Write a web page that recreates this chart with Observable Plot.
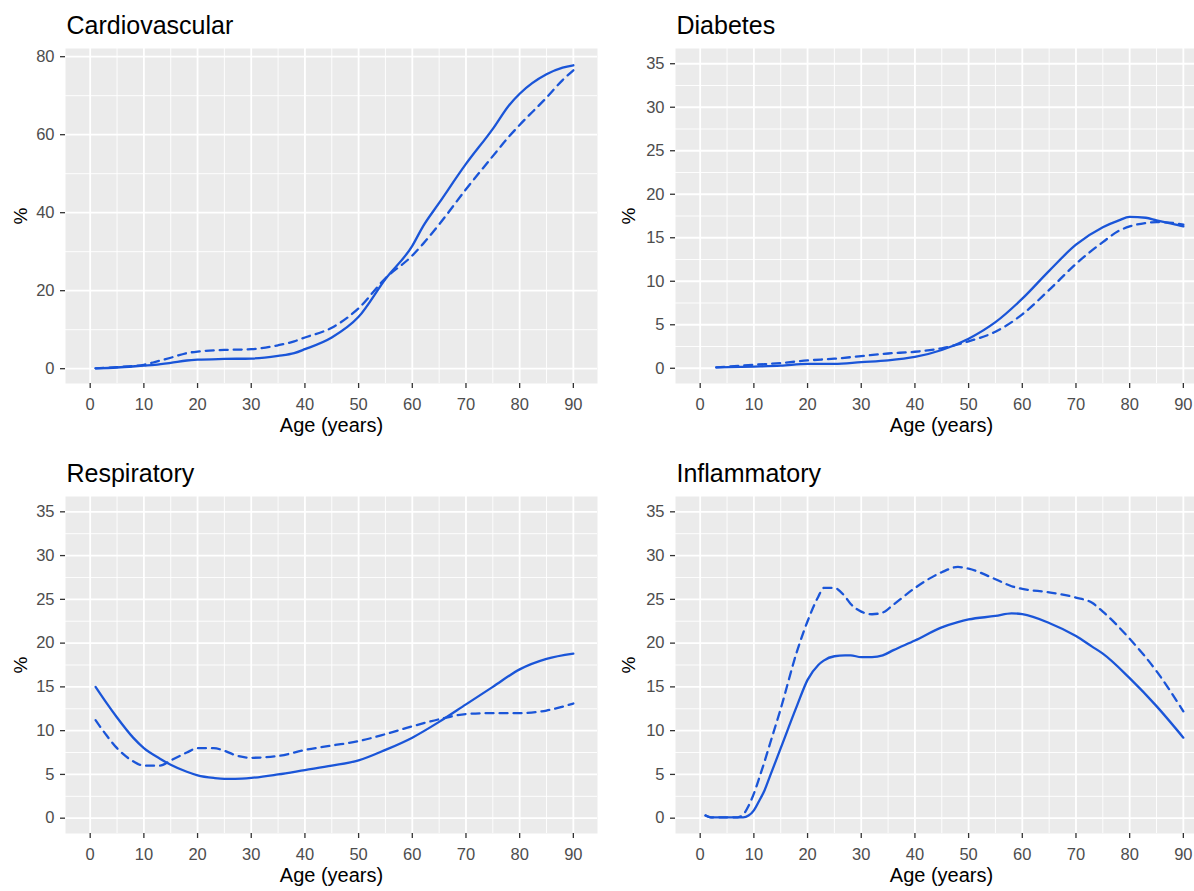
<!DOCTYPE html>
<html><head><meta charset="utf-8">
<script src="https://cdn.jsdelivr.net/npm/d3@7"></script>
<script src="https://cdn.jsdelivr.net/npm/@observablehq/plot@0.6"></script>
<style>
html,body{margin:0;padding:0;background:#fff;}
#wrap{position:relative;width:1194px;height:891px;overflow:hidden;font-family:"Liberation Sans",Arial,sans-serif;}
.pnl{position:absolute;}
.pnl svg{max-width:none !important;}
</style></head><body><div id="wrap"></div>
<script>
// ---- data ----
const xMajor = [0,10,20,30,40,50,60,70,80,90];
const xMinor = [5,15,25,35,45,55,65,75,85];

const cardioAge    = [1,5,10,12,15,18,20,25,30,35,38,40,45,50,55,60,62,65,70,75,78,80,85,88,90];
const cardioSolid  = [0.1,0.3,0.8,1.0,1.5,2.1,2.3,2.5,2.6,3.3,4.0,5.0,8.0,13.3,23.0,31.5,36.5,42.5,52.5,61.5,67.5,70.5,75.5,77.2,77.8];
const cardioDashed = [0.1,0.4,1.0,1.7,2.8,4.0,4.4,4.8,5.0,6.0,7.0,8.0,10.5,15.5,23.2,29.0,32.0,37.0,46.0,54.5,59.5,62.5,69.5,74.0,76.5];
const cardioYMajor = [0,20,40,60,80];
const cardioYMinor = [10,30,50,70];

const diabAge    = [3,10,15,20,25,30,35,40,45,50,55,60,65,70,75,78,80,83,85,88,90];
const diabSolid  = [0.1,0.2,0.3,0.5,0.5,0.7,0.9,1.3,2.1,3.4,5.3,8.0,11.2,14.2,16.2,17.0,17.4,17.3,17.0,16.6,16.3];
const diabDashed = [0.1,0.4,0.6,0.9,1.1,1.4,1.7,1.9,2.3,3.1,4.2,6.2,9.0,12.0,14.5,15.8,16.3,16.7,16.8,16.7,16.5];

const respAge    = [1,3,5,8,10,13,15,18,20,23,25,27,30,35,40,45,50,55,60,65,70,75,80,85,90];
const respSolid  = [15,13.2,11.5,9.2,8.0,6.8,6.1,5.3,4.9,4.6,4.5,4.5,4.6,5.0,5.5,6.0,6.6,7.8,9.2,11.0,13.0,15.0,17.0,18.2,18.8];
const respDashed = [11.2,9.5,8.0,6.5,6.0,6.0,6.6,7.5,8.0,8.0,7.7,7.2,6.9,7.1,7.8,8.3,8.8,9.6,10.5,11.3,11.9,12.0,12.0,12.3,13.1];

const inflAge    = [1,2,5,7,8,9,10,11,12,13,15,18,20,22,23,25,27,28,30,32,34,36,40,45,48,50,55,58,60,65,70,73,75,80,85,90];
const inflSolid  = [0.3,0.1,0.1,0.1,0.1,0.3,0.9,2.0,3.2,4.8,8.0,12.8,15.8,17.5,18.0,18.5,18.6,18.6,18.4,18.4,18.6,19.2,20.3,21.8,22.4,22.7,23.1,23.4,23.3,22.3,20.8,19.6,18.8,16.0,12.8,9.2];
const inflDashed = [0.3,0.1,0.1,0.1,0.4,1.4,2.8,4.6,6.5,8.5,12.5,19.0,22.5,25.3,26.3,26.3,25.3,24.5,23.6,23.3,23.5,24.4,26.3,28.1,28.7,28.5,27.3,26.5,26.2,25.8,25.2,24.6,23.6,20.5,16.8,12.2];

const smallYMajor = [0,5,10,15,20,25,30,35];
const smallYMinor = [2.5,7.5,12.5,17.5,22.5,27.5,32.5];

const titles = ["Cardiovascular","Diabetes","Respiratory","Inflammatory"];
const xLabel = "Age (years)";
const yLabel = "%";

// ---- drawing ----
const BLUE = "#1a55d8";
const FONT = "'Liberation Sans', Arial, sans-serif";

function makePanel(o){
  const rows = (vals) => o.ages.map((a,i)=>({age:a, v:vals[i]}));
  const panelW = 532;
  const plot = Plot.plot({
    width: o.marginLeft + panelW,
    height: o.marginTop + o.panelH + o.marginBottom,
    marginLeft: o.marginLeft, marginRight: 0,
    marginTop: o.marginTop, marginBottom: o.marginBottom,
    style: {fontFamily: FONT, background: "transparent", overflow: "visible"},
    x: {domain: [-4.6, 94.5]},
    y: {domain: o.yDomain},
    marks: [
      Plot.frame({fill: "#ebebeb", stroke: "none"}),
      Plot.ruleX(xMinor, {stroke: "#fff", strokeWidth: 0.9}),
      Plot.ruleY(o.yMinor, {stroke: "#fff", strokeWidth: 0.9}),
      Plot.ruleX(xMajor, {stroke: "#fff", strokeWidth: 1.8}),
      Plot.ruleY(o.yMajor, {stroke: "#fff", strokeWidth: 1.8}),
      Plot.line(rows(o.dashed), {x: "age", y: "v", stroke: BLUE, strokeWidth: 2.3, strokeDasharray: "8,6", curve: "monotone-x"}),
      Plot.line(rows(o.solid), {x: "age", y: "v", stroke: BLUE, strokeWidth: 2.3, curve: "monotone-x"}),
      Plot.axisX(xMajor, {tickSize: 5, tickPadding: 10, fontSize: 16.5, fill: "#4d4d4d", stroke: "#333", strokeWidth: 1.3, label: null}),
      Plot.axisY(o.yMajor, {tickSize: 5, tickPadding: 6, fontSize: 16.5, fill: "#4d4d4d", stroke: "#333", strokeWidth: 1.3, label: null}),
      Plot.text([o.title], {text: d => d, frameAnchor: "top-left", dx: 1, dy: -15, lineAnchor: "bottom", textAnchor: "start", fontSize: 25, fill: "#000"}),
      Plot.text([xLabel], {text: d => d, frameAnchor: "bottom", dy: 48.5, lineAnchor: "bottom", textAnchor: "middle", fontSize: 20, fill: "#000"}),
      Plot.text([yLabel], {text: d => d, frameAnchor: "left", dx: o.yLabDx, rotate: -90, lineAnchor: "middle", textAnchor: "middle", fontSize: 19, fill: "#000"})
    ]
  });
  plot.style.maxWidth = "none";
  const div = document.createElement("div");
  div.className = "pnl";
  div.style.left = o.left + "px";
  div.style.top = o.top + "px";
  div.style.width = (o.marginLeft + panelW) + "px";
  div.appendChild(plot);
  document.getElementById("wrap").appendChild(div);
}

const bigDomain = [-3.8, 82.1];
const smallDomain = [-1.75, 36.75];

makePanel({title: titles[0], ages: cardioAge, solid: cardioSolid, dashed: cardioDashed,
  yDomain: bigDomain, yMajor: cardioYMajor, yMinor: cardioYMinor,
  left: 0, top: 0, marginLeft: 65, marginTop: 48, panelH: 335, marginBottom: 60, yLabDx: -45});
makePanel({title: titles[1], ages: diabAge, solid: diabSolid, dashed: diabDashed,
  yDomain: smallDomain, yMajor: smallYMajor, yMinor: smallYMinor,
  left: 597, top: 0, marginLeft: 78, marginTop: 48, panelH: 335, marginBottom: 60, yLabDx: -47});
makePanel({title: titles[2], ages: respAge, solid: respSolid, dashed: respDashed,
  yDomain: smallDomain, yMajor: smallYMajor, yMinor: smallYMinor,
  left: 0, top: 448, marginLeft: 65, marginTop: 48, panelH: 337, marginBottom: 58, yLabDx: -45});
makePanel({title: titles[3], ages: inflAge, solid: inflSolid, dashed: inflDashed,
  yDomain: smallDomain, yMajor: smallYMajor, yMinor: smallYMinor,
  left: 597, top: 448, marginLeft: 78, marginTop: 48, panelH: 337, marginBottom: 58, yLabDx: -47});
</script>
</body></html>
